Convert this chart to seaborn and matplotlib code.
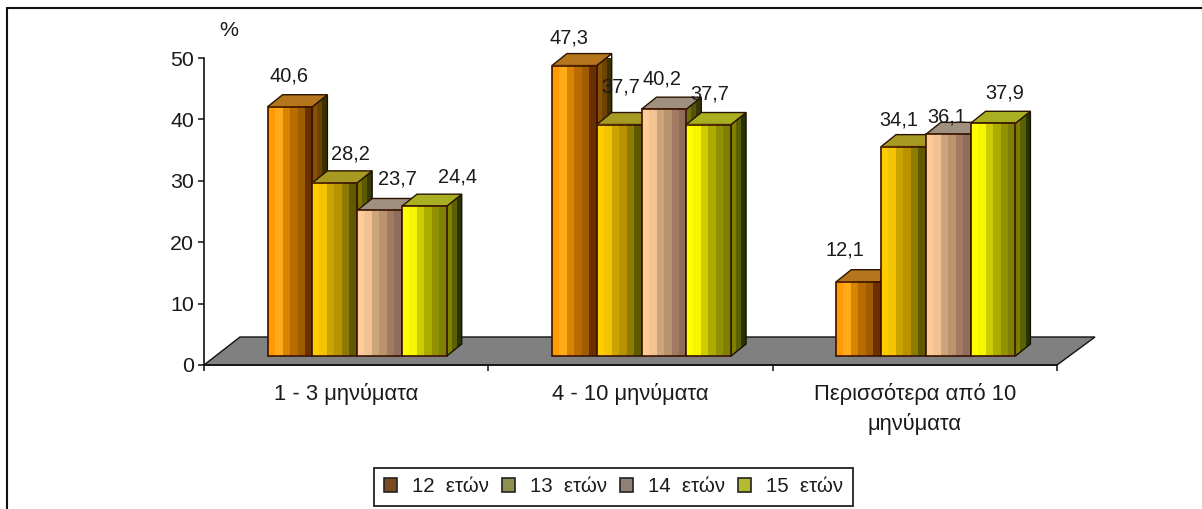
import numpy as np
import pandas as pd
import matplotlib
matplotlib.use("Agg")
import matplotlib.pyplot as plt
import seaborn as sns
from matplotlib.colors import to_rgb
from matplotlib.lines import Line2D
from matplotlib.patches import Patch, Polygon

W, H = 1202, 509
categories = ["1 - 3 μηνύματα", "4 - 10 μηνύματα", "Περισσότερα από 10\nμηνύματα"]
age_groups = ["12  ετών", "13  ετών", "14  ετών", "15  ετών"]
age_12 = [40.6, 47.3, 12.1]
age_13 = [28.2, 37.7, 34.1]
age_14 = [23.7, 40.2, 36.1]
age_15 = [24.4, 37.7, 37.9]
y_ticks = [0, 10, 20, 30, 40, 50]

front_bands = [
    ["#ff9a00", "#ffaa18", "#d98400", "#b86c00", "#a05c00", "#6a3000"],
    ["#ffcc00", "#f4c400", "#cca400", "#b89200", "#8c7c00", "#5f5a00"],
    ["#ffcc99", "#f2c292", "#cba67c", "#b9946c", "#a27a62", "#8c6e5a"],
    ["#ffff00", "#f6f600", "#cccc00", "#acac00", "#909000", "#808000"],
]
top_colors = ["#b5751c", "#a69a22", "#a09080", "#a8b022"]
side_bands = [
    ["#8a5200", "#6a4400", "#3c3000"],
    ["#7a7400", "#5c5a00", "#38380a"],
    ["#6f6f10", "#55550a", "#383808"],
    ["#808000", "#5c6000", "#2a3208"],
]
legend_colors = ["#7a4a20", "#8f8f50", "#8f8078", "#b5bb30"]
label_nudges = [  # px offset of each value label from its bar's front-top centre
    [(-1, 31), (-5, 28), (-14, 32)],
    [(16, 29), (2, 38), (-5, 27)],
    [(18, 31), (-2, 30), (-1, 17)],
    [(33, 29), (1, 31), (12, 30)],
]

sns.set_theme(style="white")
plt.rcParams["font.family"] = ["Liberation Sans", "DejaVu Sans"]
TEXT = "#1a1a1a"
FS_VALUE = 14.4
FS_TICK = 15.4
FS_CAT = 15.8
FS_LEG = 14.7

fig = plt.figure(figsize=(W / 100, H / 100), dpi=100, facecolor="white")
ax_l, ax_r, ax_t, ax_b = 204, 1057, 58, 365
ax = fig.add_axes([ax_l / W, 1 - ax_b / H, (ax_r - ax_l) / W, (ax_b - ax_t) / H])

df = pd.DataFrame({"cat": categories, age_groups[0]: age_12, age_groups[1]: age_13,
                   age_groups[2]: age_14, age_groups[3]: age_15})
long_df = df.melt(id_vars="cat", var_name="age", value_name="pct")
sns.barplot(data=long_df, x="cat", y="pct", hue="age", order=categories, hue_order=age_groups,
            width=0.63, gap=0, dodge=True, legend=False, errorbar=None, ax=ax)

ax.set_xlim(-0.5, 2.5)
ax.set_ylim(0, 50)
ax.set_autoscale_on(False)
px_x = 3 / (ax_r - ax_l)
px_y = 50 / (ax_b - ax_t)

# floor
ax.add_patch(Polygon([(-0.5, 0), (-0.5 + 36 * px_x, 28 * px_y), (2.5 + 38 * px_x, 28 * px_y), (2.5, 0)],
                     closed=True, facecolor="#808080", edgecolor="#111111", lw=1.0, zorder=1, clip_on=False))

off_x, off_y = 11 * px_x, 9 * px_y
dep_x, dep_y = 15 * px_x, 12 * px_y
EDGE = "#3a1200"

for s, container in enumerate(ax.containers):
    for c, bar in enumerate(container):
        x0 = bar.get_x() + off_x
        x1 = x0 + bar.get_width()
        y0 = off_y
        y1 = bar.get_height() + off_y
        z = 3 + s * 0.1
        # right side, banded
        bands = [to_rgb(v) for v in side_bands[s]]
        ax.imshow(np.array([bands]), extent=(0, 1, 0, 1), aspect="auto", interpolation="nearest",
                  zorder=z, clip_on=False)
        im = ax.images[-1]
        side = Polygon([(x1, y0), (x1 + dep_x, y0 + dep_y), (x1 + dep_x, y1 + dep_y), (x1, y1)],
                       closed=True, facecolor="none", edgecolor="#141400", lw=1.0, zorder=z + 0.01, clip_on=False)
        ax.add_patch(side)
        im.set_extent((x1, x1 + dep_x, y0, y1 + dep_y))
        im.set_clip_path(side)
        im.set_clip_on(True)
        # top
        ax.add_patch(Polygon([(x0, y1), (x0 + dep_x, y1 + dep_y), (x1 + dep_x, y1 + dep_y), (x1, y1)],
                             closed=True, facecolor=top_colors[s], edgecolor="#2a1400", lw=1.0,
                             zorder=z + 0.02, clip_on=False))
        # front, banded
        bands = [to_rgb(v) for v in front_bands[s]]
        ax.imshow(np.array([bands]), extent=(x0, x1, y0, y1), aspect="auto", interpolation="nearest",
                  zorder=z + 0.03, clip_on=False)
        bar.set_xy((x0, y0))
        bar.set_facecolor("none")
        bar.set_edgecolor(EDGE)
        bar.set_linewidth(1.2)
        bar.set_zorder(z + 0.04)
        bar.set_clip_on(False)
        # value label
        nx, ny = label_nudges[s][c]
        ax.annotate(f"{bar.get_height():.1f}".replace(".", ","),
                    xy=((x0 + x1) / 2, y1), xytext=(nx * 0.72, ny * 0.72), textcoords="offset points",
                    ha="center", va="center", fontsize=FS_VALUE, color=TEXT, zorder=10, annotation_clip=False)

ax.set_xlim(-0.5, 2.5)
ax.set_ylim(0, 50)

sns.despine(ax=ax, top=True, right=True)
for name in ("left", "bottom"):
    ax.spines[name].set_color("#111111")
    ax.spines[name].set_linewidth(1.2)
    ax.spines[name].set_zorder(2)

ax.set_xlabel("")
ax.set_ylabel("")
ax.set_yticks(y_ticks)
ax.tick_params(axis="y", left=True, length=4, width=1.1, color="#111111", labelsize=FS_TICK, labelcolor=TEXT, pad=3)
ax.set_xticks(np.arange(len(categories)))
ax.set_xticklabels(categories, linespacing=1.45)
ax.set_xticks(np.arange(len(categories) + 1) - 0.5, minor=True)
ax.tick_params(axis="x", which="major", bottom=False, length=0, labelsize=FS_CAT, labelcolor=TEXT, pad=13)
ax.tick_params(axis="x", which="minor", bottom=True, length=4, width=1.1, color="#111111")

fig.text(229 / W, 1 - 30 / H, "%", fontsize=FS_TICK, color=TEXT, ha="center", va="center")

# outer frame (runs off the right and bottom of the picture)
fig.add_artist(Line2D([7 / W, 7 / W], [0, 1 - 8 / H], transform=fig.transFigure, color="#111111", lw=1.5))
fig.add_artist(Line2D([7 / W, 1], [1 - 8 / H, 1 - 8 / H], transform=fig.transFigure, color="#111111", lw=1.5))

handles = [Patch(facecolor=c, edgecolor="#222222", lw=1.2) for c in legend_colors]
leg = fig.legend(handles, age_groups, ncol=4, loc="center", bbox_to_anchor=(613.5 / W, 1 - 487 / H),
                 frameon=True, fancybox=False, edgecolor="#222222", framealpha=1, fontsize=FS_LEG,
                 handlelength=0.68, handleheight=0.68, handletextpad=0.73, columnspacing=0.6,
                 borderpad=0.45, labelcolor=TEXT)
leg.get_frame().set_linewidth(1.3)

fig.savefig("out.png", dpi=100, facecolor="white")
